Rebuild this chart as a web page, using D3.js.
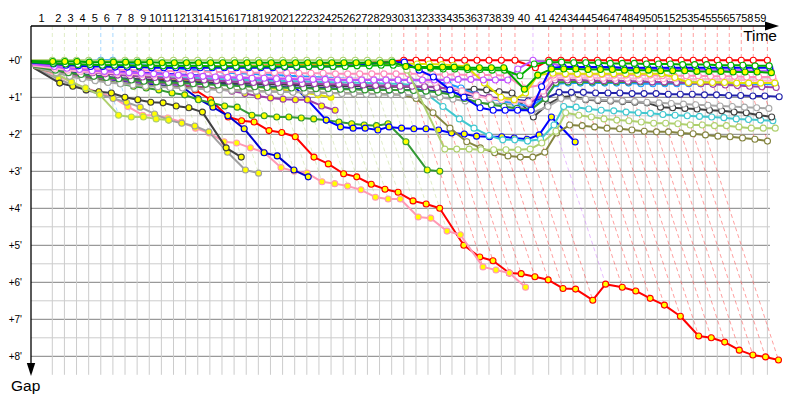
<!DOCTYPE html>
<html><head><meta charset="utf-8">
<script src="https://cdn.jsdelivr.net/npm/d3@7"></script>
<style>body{margin:0;background:#fff}svg{display:block}text{font-family:"Liberation Sans",Arial,sans-serif;fill:#000}</style>
</head><body><svg id="c" width="800" height="400"></svg>
<script>
// leader lap times (seconds)
const lapTimes = [106.5,
 60.6,60.6,60.6,60.6,60.6,60.6,60.6,60.6,60.6,60.6,60.6,60.6,60.6,60.6,60.6,60.6,60.6,60.6,60.6,60.6,60.6,60.6,60.6,60.6,60.6,60.6,60.6,60.6,60.6,
 61,60,62,58,63.5,61.5,60,62,68,90,78.5,61.5,60,60,62,59.5,
 60,60,60,60,60,60,60,60,60,60,60,60,70.5];
const lapLabels = [1,2,3,4,5,6,7,8,9,10,11,12,13,14,15,16,17,18,19,20,21,22,23,24,25,26,27,28,29,30,31,32,33,34,35,36,37,38,39,40,41,42,43,44,45,46,47,48,49,50,51,52,53,54,55,56,57,58,59];
const gapTicks = ["+0'","+1'","+2'","+3'","+4'","+5'","+6'","+7'","+8'"];
const gapTickValues = [0,60,120,180,240,300,360,420,480];

// gap to leader (seconds) at the end of each lap, index 0 = start
const gapsRed = [3,5,6,7,8,8,9,9,9,10, 10,10,10,10,10,10,9,9,9,8, 8,8,7,7,6,6,5,4,3,2, 0,0,0,0,0,0,0,0,0,0, 12, 0,0,0,0,0,0,0,0,0,0,0,0,0,0,0,0,0,0,0];
const gapsLGreen = [0,0,0,0,0,1,1,0,0,0, 0,0,0,0,0,0,0,0,0,0, 0,0,0,0,0,0,0,0,0,0, 16, 144,144,144,145,145,145,145,144, 134,115,85,89,92,95,97,98,100,102,102,103,105,105,106,106,108,110,110,110];
const gapsGreen = [3,5,6,7,7,8,8,8,9,9, 9,9,9,9,10,10,10,10,10,10, 10,10,10,10,10,10,9,9,8,8, 10,12,13,14,14,15,15,16,16, 25, 6, 3,3,4,4,4,5,5,5,6,6,6,7,7,7,8,8,8,9,9];
const gapsGreenY = [1,2,2,2,3,3,3,3,3,3, 4,4,4,4,4,4,4,4,4,4, 4,4,4,4,4,4,4,4,4,3, 10,11,11,11,11,12,12,12,12, 47,24,14, 14,14,15,15,15,16,16,16,17,17,17,18,18,18,19,19,19,20];
const gapsBlue = [4,6,8,9,10,10,11,11,11,12, 12,12,12,12,12,12,12,12,12,12, 11,11,10,10,10,9,8,6,4,3, 3,16,27,48,60,77,81,81,81,81, 43,12, 11,11,11,11,11,12,12,12,12,12,12,12,12,12,12,12,12,12];
const gapsViolet = [6,10,13,15,17,18,19,20,21,22, 23,24,25,26,27,28,28,29,29,30, 30,31,31,31,32,32,32,32,32,32, 32,32,32,32,31,31,32,32,32, 14,0,4, 10,11,12,12,13,13,13,14,14,14,15,15,15,16,16,16,17,17];
const gapsYellow = [5,6,7,7,8,8,8,9,9,9, 9,10,10,10,10,10,10,9,9,9, 9,8,8,8,7,7,7,6,6,6, 5,6,6,7,8,10, 37,60,64,53,24,21, 22,22,22,22,22,22,22,22,22, 28,36, 36,36,36,37,37,37,37];
const gapsPink = [7,10,12,13,14,15,15,16,16,17, 17,18,18,18,19,19,19,20,20,20, 20,21,21,21,22,22,22,22,22,22, 22,22,23,23,23,24,24,24,25, 45,40,24, 23,23,23,23,24,24,24,24,25,25,25,25,26,26,26,27,27,27];
const gapsLPink = [9,13,16,18,19,20,21,22,23,24, 24,25,25,26,26,27,27,28,28,28, 29,29,29,30,30,30,30,31,31,31, 31,33,36,42,50,58,62,64,66,68, 50,28, 28,28,28,29,29,29,30,30,30,30,31,31,31,32,32,32,33,33];
const gapsPurple = [8,12,15,18,20,22,24,25,27,28, 29,30,31,32,33,34,35,36,36,37, 37,38,38,39,39,40,40,41,41,42, 42,43,44,46,50,56,60,63,65, 70,55,32, 32,32,33,33,33,34,34,35,35,36,37,38,39,40,41,42,43,44];
const gapsGreen2 = [10,16,20,23,26,28,30,32,34,35, 36,37,38,39,40,41,42,43,44,44, 45,45,46,46,47,47,48,48,48,48, 49,50,52,56,62,68,72,75,78, 80,62,36, 35,35,35,35,35,35,35,35,36,36,36,36,36,36,37,37,37,37];
const gapsSky = [1,1,1,1,1,0,0,3,6,9, 11,13,15,17,18,20,21,22,23,24, 25,26,27,28,29,30,30,31,31,32, 32,33,35,38,45,55,62,66,70, 75,60,38, 37,37,37,37,37,37,38,38,38,38,38,38,38,38,38,38,39,39];
const gapsDBlue = [9,14,18,22,25,27,29,31,33,34, 35,36,37,38,39,40,41,42,43,43, 44,44,45,45,46,46,47,47,48,48, 48,49,50,52,55,58,60,62,64,66, 62,52, 52,52,53,53,53,54,54,54,55,55,55,56,56,57,57,58,58,59];
const gapsGray = [11,20,26,30,33,36,38,40,42,43, 44,45,46,47,48,49,50,50,51,51, 52,52,53,53,54,54,55,55,56,56, 57,58,60,63,66,69,70,71,72,85, 75,62, 62,63,64,65,66,67,68,69,70,71,72,73,74,75,76,77,78];
const gapsBlack = [10,16,20,23,25,27,29,30,31,32, 33,34,35,36,37,37,38,38,39,39, 40,40,41,41,42,42,42,43,43,43, 43,43, 43,47,48,47,48,51,53,92, 72,60, 58,64,65,66,67,68,69,76,77,78,79,81,82,84,85,89,92];
const gapsCyan = [7,12,15,17,19,21,22,23,24,25, 26,27,28,29,30,31,32,32,33,33, 34,34,35,35,36,36,37,37,38,38, 40,55,75,95,110,122,129,129,131,128, 105,75, 76,79,81,82,84,85,86,88,89,90,91,92,93,95,96,97,98];
const gapsOlive = [12,20,25,29,32,35,37,39,41,42, 43,44,45,46,47,48,49,50,50,51, 51,52,52,53,53,54,54,55,55,56, 62,85,110,132,142,150,155,157,157,149, 118,105, 106,108,110,111,113,115,116,116,118,119,121,123,124,126,128,131];
const gapsYellowY = [4,8,11,14,17,19,21,23,25,27,29,31,33,35,37,39,41,43,45,47,50,53,56,60];
const gapsRedY = [8,14,16,18,19,20,21,22,24,27, 33,38,48,64,92,98,100,114,117,124, 157,168,184,189,201,209,214,228,233,240, 300,319,325,345,346,351,356,370,371,389, 363,368,374,386,397,415,447,450,457,470, 478,481,486];
const gapsPinkY = [10,25,35,45,52,60,75,89,89,93.5, 100,110,118,132,134,142,149,174,180,183, 197,200,204,210,222,225,225,254,256,277, 283,335,340,345,368];
const gapsBlueY = [6,12,18,22,27,30,33,35,37,40,42,43,62,76,90,111,150,155,178,189];
const gapsGreen2Y = [7,14,20,25,30,34,38,42,45,48, 53,56,64,69,74,76,89,90,92,92, 93.5,95,97,100,103,105,106,103,132,178, 180];
const gapsBlue2Y = [5,9,12,14,16,17,18,19,20,21, 22,23,24,25,26,27,28,29,30,32, 35,64,97,108,110,110,113,108,110,111, 111,113,118,119.5,123,124,124,126,128,121, 92,132.5];
const gapsPurpleY = [9,16,22,25,28,30,32,34,36,37,38,40,42,44,47,50,54,58,61,63,64,64,74,81];
const gapsGrayY = [12,30,40,48,55,62,68,76,87,97,102,106.5,116,149,178,183];
const gapsBlackY = [12,37,42,48,51,53,60,64,68,69,74,77,84,142,157];
const gapsLGreenY = [8,22,35,45,56,89,92,92,95,97];

// drawing order (back to front)
const seriesGaps = [gapsRedY,gapsPinkY,gapsBlueY,gapsGreen2Y,gapsBlue2Y,gapsPurpleY,gapsGrayY,gapsBlackY,gapsLGreenY,gapsRed,gapsYellowY,
  gapsOlive,gapsCyan,gapsBlack,gapsGray,gapsDBlue,gapsSky,gapsGreen2,gapsPurple,gapsLPink,gapsPink,gapsYellow,gapsViolet,gapsBlue,gapsGreen,gapsLGreen,gapsGreenY];
const seriesColors = ["#ff0000","#ff99b4","#0000cc","#339933","#0000ff","#a040a8","#a0a0a0","#404040","#afd06e","#ff0000","#e6e600",
  "#858540","#40c8d0","#404040","#a8a8a8","#2222aa","#1e9bff","#339933","#a040a8","#ffb0d0","#ff8cba","#e0e000","#c050ff","#0000ff","#00b000","#afd06e","#00a800"];
const seriesFills = ["#ffff00","#ffff00","#ffff00","#ffff00","#ffff00","#ffff00","#ffff00","#ffff00","#ffff00","#fff","#ffff00",
  "#fff","#fff","#fff","#fff","#fff","#fff","#fff","#fff","#fff","#fff","#fff","#fff","#fff","#fff","#fff","#ffff00"];

const svg = d3.select("#c");
const T = [0]; lapTimes.forEach(t => T.push(T[T.length-1] + t));
const x = d3.scaleLinear().domain([0, 3695]).range([31, 770]);
const y = d3.scaleLinear().domain([0, 480]).range([60.3, 356.3]);
const topY = 26, xEnd = x.range()[1];

// grid
const g = svg.append("g");
d3.range(0, 481, 30).forEach(s => {
  g.append("line").attr("x1", 31).attr("x2", xEnd).attr("y1", y(s)).attr("y2", y(s))
   .attr("stroke", s % 60 === 0 ? "#808080" : "#cccccc").attr("stroke-width", 1);
});
for (let k = 1; k < T.length; k++) {
  g.append("line").attr("x1", x(T[k])).attr("x2", x(T[k])).attr("y1", y(0)).attr("y2", y(510))
   .attr("stroke", "#cccccc").attr("stroke-width", 1);
}

// lap lines (dashed), coloured by leader of that lap
const dl = svg.append("g");
for (let k = 1; k < T.length; k++) {
  let best = -1, bestG = Infinity, gmax = 0;
  seriesGaps.forEach((arr, i) => {
    if (arr.length > k) {
      if (arr[k] < bestG) { bestG = arr[k]; best = i; }
      if (arr[k] > gmax) gmax = arr[k];
    }
  });
  const p = d3.path();
  p.moveTo(x(T[k]), topY); p.lineTo(x(T[k]), y(0)); p.lineTo(x(T[k] + gmax), y(gmax));
  dl.append("path").attr("d", p.toString()).attr("fill", "none")
    .attr("stroke", seriesColors[best]).attr("stroke-opacity", 0.38)
    .attr("stroke-width", 1).attr("stroke-dasharray", "4,3");
}

// series
const line = d3.line().x(d => x(d[0])).y(d => y(d[1]));
seriesGaps.forEach((arr, i) => {
  const pts = arr.map((v, k) => [T[k] + v, v]);
  const sg = svg.append("g");
  sg.append("path").attr("d", line(pts)).attr("fill", "none")
    .attr("stroke", seriesColors[i]).attr("stroke-width", 2).attr("stroke-linejoin", "round");
  sg.selectAll("circle").data(pts.slice(1)).join("circle")
    .attr("cx", d => x(d[0])).attr("cy", d => y(d[1])).attr("r", 3)
    .attr("fill", seriesFills[i]).attr("stroke", seriesColors[i]).attr("stroke-width", 1.1);
});

// axes
svg.append("line").attr("x1", 31).attr("x2", 768).attr("y1", topY).attr("y2", topY).attr("stroke", "#000").attr("stroke-width", 1.3);
svg.append("path").attr("d", "M765,21.5L779,26L765,30.5Z").attr("fill", "#000");
svg.append("line").attr("x1", 31).attr("x2", 31).attr("y1", topY).attr("y2", 366).attr("stroke", "#000").attr("stroke-width", 1.3);
svg.append("path").attr("d", "M26.8,363L31,376L35.2,363Z").attr("fill", "#000");
svg.append("text").attr("x", 777).attr("y", 40.5).attr("text-anchor", "end").attr("font-size", 15.5).text("Time");
svg.append("text").attr("x", 11).attr("y", 391).attr("font-size", 15.5).text("Gap");

// lap labels
lapLabels.forEach((lab, i) => {
  svg.append("text").attr("x", (x(T[i]) + x(T[i+1])) / 2).attr("y", 22)
    .attr("text-anchor", "middle").attr("font-size", 11).text(lab);
});
// gap labels
gapTicks.forEach((lab, i) => {
  svg.append("text").attr("x", 22).attr("y", y(gapTickValues[i])).attr("dy", "0.35em")
    .attr("text-anchor", "end").attr("font-size", 10).text(lab);
});
</script></body></html>
